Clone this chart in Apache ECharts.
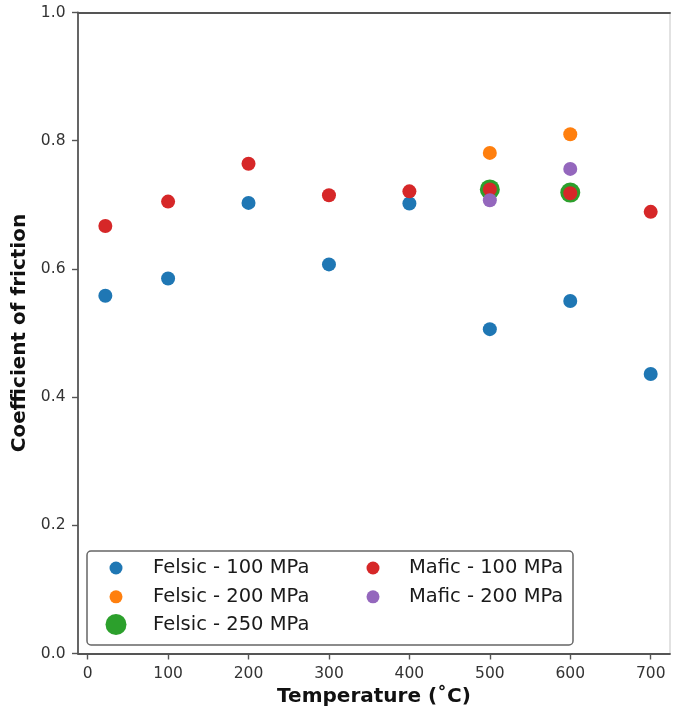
<!DOCTYPE html>
<html>
<head>
<meta charset="utf-8">
<script src="https://cdn.jsdelivr.net/npm/echarts@6/dist/echarts.min.js"></script>
<style>html,body{margin:0;padding:0;background:#fff;}#c{width:673px;height:713px;}</style>
</head>
<body>
<div id="c"></div>
<script>
// ---- data ----
const seriesNames = ['Felsic - 100 MPa', 'Felsic - 200 MPa', 'Felsic - 250 MPa', 'Mafic - 100 MPa', 'Mafic - 200 MPa'];
const felsic100X = [22, 100, 200, 300, 400, 500, 600, 700];
const felsic100Y = [0.558, 0.585, 0.703, 0.607, 0.702, 0.506, 0.550, 0.436];
const felsic200X = [500, 600];
const felsic200Y = [0.781, 0.810];
const felsic250X = [500, 600];
const felsic250Y = [0.724, 0.719];
const mafic100X = [22, 100, 200, 300, 400, 500, 600, 700];
const mafic100Y = [0.667, 0.705, 0.764, 0.715, 0.721, 0.724, 0.718, 0.689];
const mafic200X = [500, 600];
const mafic200Y = [0.707, 0.756];
const xTicks = [0, 100, 200, 300, 400, 500, 600, 700];
const yTicks = [0.0, 0.2, 0.4, 0.6, 0.8, 1.0];

const colors = ['#1f77b4', '#ff7f0e', '#2ca02c', '#d62728', '#9467bd'];
const sizes = [14, 14, 20, 14, 14];
const xs = [felsic100X, felsic200X, felsic250X, mafic100X, mafic200X];
const ys = [felsic100Y, felsic200Y, felsic250Y, mafic100Y, mafic200Y];

const FONT = 'DejaVu Sans';
const spine = '#555';

const series = seriesNames.map((n, i) => ({
  name: n,
  type: 'scatter',
  xAxisIndex: 0,
  yAxisIndex: 0,
  symbol: 'circle',
  symbolSize: sizes[i],
  itemStyle: { color: colors[i], opacity: 1 },
  data: xs[i].map((x, k) => [x, ys[i][k]]),
  z: 3 + i
}));

const legendText = (pad) => ({ fontFamily: FONT, fontSize: 19.5, color: '#1a1a1a', padding: [0, 0, 0, pad] });
const chart = echarts.init(document.getElementById('c'), null, { renderer: 'canvas' });
chart.setOption({
  animation: false,
  backgroundColor: '#fff',
  grid: { left: 78, right: 3, top: 12.5, bottom: 59.5, containLabel: false },
  xAxis: [{
    type: 'value', min: -12, max: 724, position: 'bottom',
    name: 'Temperature (˚C)', nameLocation: 'middle', nameGap: 33,
    nameTextStyle: { fontFamily: FONT, fontSize: 20, fontWeight: 'bold', color: '#111' },
    axisLine: { show: true, onZero: false, lineStyle: { color: spine, width: 1.8 } },
    axisTick: { show: true, length: 6, lineStyle: { color: spine, width: 1.4 }, customValues: xTicks },
    axisLabel: { margin: 12, fontFamily: FONT, fontSize: 15.5, color: '#333', customValues: xTicks },
    splitLine: { show: false }
  }, {
    type: 'value', min: -12, max: 724, position: 'top',
    axisLine: { show: true, onZero: false, lineStyle: { color: spine, width: 1.8 } },
    axisTick: { show: false }, axisLabel: { show: false }, splitLine: { show: false }
  }],
  yAxis: [{
    type: 'value', min: 0, max: 1, interval: 0.2, position: 'left',
    name: 'Coefficient of friction', nameLocation: 'middle', nameGap: 41.5,
    nameTextStyle: { fontFamily: FONT, fontSize: 20, fontWeight: 'bold', color: '#111' },
    axisLine: { show: true, onZero: false, lineStyle: { color: spine, width: 1.8 } },
    axisTick: { show: true, length: 6, lineStyle: { color: spine, width: 1.4 } },
    axisLabel: { margin: 12.5, fontFamily: FONT, fontSize: 15.5, color: '#333',
      formatter: v => v.toFixed(1) },
    splitLine: { show: false }
  }, {
    type: 'value', min: 0, max: 1, position: 'right',
    axisLine: { show: true, onZero: false, lineStyle: { color: '#d8d8d8', width: 1.5 } },
    axisTick: { show: false }, axisLabel: { show: false }, splitLine: { show: false }
  }],
  graphic: [{
    type: 'rect', z: 1,
    shape: { x: 87, y: 551, width: 486, height: 94, r: 4 },
    style: { fill: '#fff', stroke: '#666', lineWidth: 1.5 }
  }],
  legend: [{
    orient: 'vertical', left: 109.5, top: 558, padding: 0, itemGap: 8.8,
    itemWidth: 13, itemHeight: 13, icon: 'circle', selectedMode: false,
    data: [seriesNames[0], seriesNames[1]], textStyle: legendText(25.5), z: 5
  }, {
    orient: 'vertical', left: 105.5, top: 614, padding: 0,
    itemWidth: 21, itemHeight: 21, icon: 'circle', selectedMode: false,
    data: [seriesNames[2]], textStyle: legendText(21.5), z: 5
  }, {
    orient: 'vertical', left: 366.5, top: 558, padding: 0, itemGap: 8.8,
    itemWidth: 13, itemHeight: 13, icon: 'circle', selectedMode: false,
    data: [seriesNames[3], seriesNames[4]], textStyle: legendText(24.5), z: 5
  }],
  series: series
});
</script>
</body>
</html>
